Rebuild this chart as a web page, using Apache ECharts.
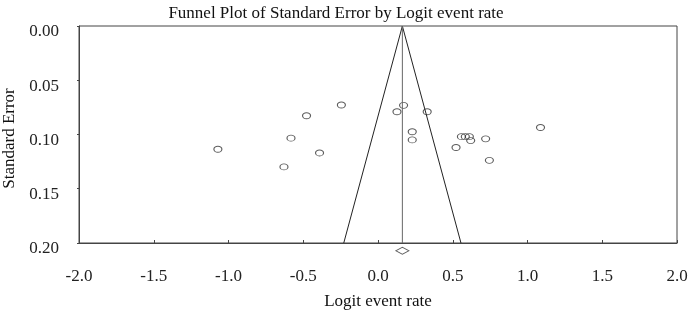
<!DOCTYPE html>
<html>
<head>
<meta charset="utf-8">
<script src="https://cdn.jsdelivr.net/npm/echarts@6/dist/echarts.min.js"></script>
<style>
  html, body { margin: 0; padding: 0; background: #fff; }
  #chart { width: 691px; height: 313px; }
</style>
</head>
<body>
<div id="chart"></div>
<script>
// study points: logit event rate vs standard error
var logitRate = [-1.071, -0.478, -0.245, -0.582, -0.391, -0.629,
  0.171, 0.127, 0.329, 0.229, 0.229, 0.558, 0.584, 0.611, 0.620, 0.72, 0.522, 0.745, 1.087]
var stdErr = [0.1136, 0.0827, 0.0728, 0.1034, 0.117, 0.1299,
  0.0731, 0.079, 0.079, 0.0975, 0.105, 0.102, 0.102, 0.102, 0.1056, 0.104, 0.112, 0.1238, 0.0935]
var meanRate = 0.163
var maxSE = 0.2
var xTicks = [-2, 2, 0.5]
var yTicks = [0, 0.2, 0.05]

var points = logitRate.map(function (x, i) { return [x, stdErr[i]] })
var funnel = [[meanRate - 1.96 * maxSE, maxSE], [meanRate, 0], [meanRate + 1.96 * maxSE, maxSE]]
var meanLine = [[meanRate, 0], [meanRate, maxSE]]

var font = 'Liberation Serif'
var chart = echarts.init(document.getElementById('chart'), null, { renderer: 'canvas' })
chart.setOption({
  animation: false,
  title: {
    text: 'Funnel Plot of Standard Error by Logit event rate',
    left: 331, textAlign: 'center', top: 0,
    textStyle: { fontFamily: font, fontSize: 17, fontWeight: 'normal', color: '#111' }
  },
  grid: {
    left: 79, right: 14, top: 26, bottom: 70, outerBoundsMode: 'none', containLabel: false,
    show: true, borderColor: '#444', borderWidth: 1
  },
  xAxis: {
    type: 'value', position: 'bottom', min: xTicks[0], max: xTicks[1], interval: xTicks[2],
    name: 'Logit event rate', nameLocation: 'middle', nameGap: 50,
    nameTextStyle: { fontFamily: font, fontSize: 17, color: '#111' },
    axisLine: { show: true, onZero: false, lineStyle: { color: '#444' } },
    axisTick: { show: true, inside: true, length: 3, lineStyle: { color: '#444' } },
    axisLabel: { margin: 25, fontFamily: font, fontSize: 17, color: '#222',
      formatter: function (v) { return v.toFixed(1) } },
    splitLine: { show: false }
  },
  yAxis: {
    type: 'value', position: 'left', inverse: true, min: yTicks[0], max: yTicks[1], interval: yTicks[2],
    name: 'Standard Error', nameLocation: 'middle', nameGap: 61, nameRotate: 90,
    nameTextStyle: { fontFamily: font, fontSize: 17, color: '#111', padding: [0, 8, 0, 0] },
    axisLine: { show: true, onZero: false, lineStyle: { color: '#444' } },
    axisTick: { show: true, length: 2, lineStyle: { color: '#444' } },
    axisLabel: {
      margin: 20, fontFamily: font, fontSize: 17, color: '#222',
      formatter: function (v) { return '{a|' + v.toFixed(2) + '}' },
      rich: { a: { fontFamily: font, fontSize: 17, color: '#222', padding: [12, 0, 0, 0] } }
    },
    splitLine: { show: false }
  },
  series: [
    {
      type: 'line', data: funnel, symbol: 'none',
      lineStyle: { color: '#222', width: 1 }
    },
    {
      type: 'line', data: meanLine, symbol: 'none',
      lineStyle: { color: '#666', width: 1 }
    },
    {
      type: 'scatter', data: points, symbol: 'circle', symbolSize: [8, 6],
      itemStyle: { color: 'rgba(255,255,255,0)', borderColor: '#333', borderWidth: 1 }
    },
    {
      // summary diamond just below the axis
      type: 'scatter', clip: false, data: [[meanRate, maxSE + 0.0072]],
      symbol: 'diamond', symbolSize: [13, 7],
      itemStyle: { color: '#fff', borderColor: '#333', borderWidth: 1 }
    }
  ]
})
</script>
</body>
</html>
